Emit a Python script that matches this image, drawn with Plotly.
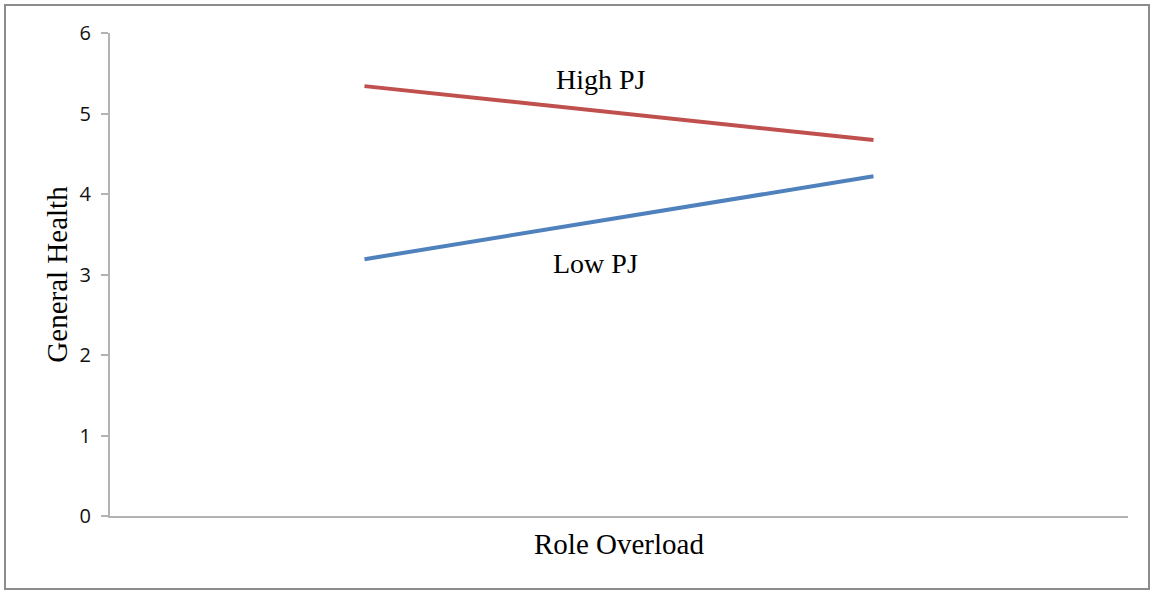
import plotly.graph_objects as go

# Data
categories = [0, 1]  # low / high role overload (labels hidden in original)
high_pj = [5.34, 4.67]
low_pj = [3.19, 4.22]
y_ticks = [0, 1, 2, 3, 4, 5, 6]

W, H = 1153, 592
L, R, T, B = 110, 25, 33, 76
pw, ph = W - L - R, H - T - B

fig = go.Figure()
fig.add_trace(go.Scatter(x=categories, y=high_pj, mode="lines", name="High PJ",
                         line=dict(color="#C0504D", width=4)))
fig.add_trace(go.Scatter(x=categories, y=low_pj, mode="lines", name="Low PJ",
                         line=dict(color="#4F81BD", width=4)))

fig.add_annotation(x=0.465, y=5.42, text="High PJ", showarrow=False,
                   font=dict(family="Liberation Serif", size=28, color="black"))
fig.add_annotation(x=0.453, y=3.14, text="Low PJ", showarrow=False,
                   font=dict(family="Liberation Serif", size=28, color="black"))

# outer frame
fig.add_shape(type="rect", xref="paper", yref="paper",
              x0=(5 - L) / pw, x1=(1149 - L) / pw,
              y0=-(589 - (T + ph)) / ph, y1=(T + ph - 5) / ph,
              line=dict(color="#8c8c8c", width=2), fillcolor="rgba(0,0,0,0)", layer="below")

fig.update_layout(
    width=W, height=H,
    margin=dict(l=L, r=R, t=T, b=B),
    paper_bgcolor="white", plot_bgcolor="white",
    showlegend=False,
    xaxis=dict(range=[-0.5, 1.5], showticklabels=False, ticks="", showgrid=False,
               zeroline=False, showline=True, linecolor="#b3b3b3", linewidth=2,
               title=dict(text="Role Overload", standoff=17,
                          font=dict(family="Liberation Serif", size=29, color="black"))),
    yaxis=dict(range=[0, 6], tickvals=y_ticks, ticks="outside", ticklen=7,
               tickcolor="#b3b3b3", tickwidth=1.5, showgrid=False, zeroline=False,
               showline=True, linecolor="#b3b3b3", linewidth=2, ticklabelstandoff=6,
               tickfont=dict(family="Open Sans", size=20, color="#111"),
               title=dict(text="General Health", standoff=3,
                          font=dict(family="Liberation Serif", size=29, color="black"))),
)

fig.write_html("out.html", config={"displayModeBar": False},
               post_script="document.body.style.margin='0';")
